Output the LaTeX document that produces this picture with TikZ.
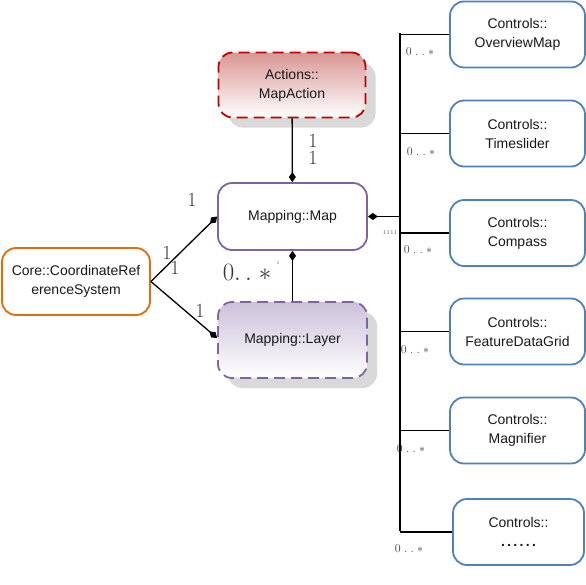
\documentclass[tikz,border=0pt]{standalone}
\usepackage{fontspec}
\newfontfamily\boxfont{Liberation Sans}
\usetikzlibrary{arrows.meta,shadows}
\definecolor{actred}{HTML}{C00000}
\definecolor{actfill}{HTML}{D99694}
\definecolor{mappurple}{HTML}{8064A2}
\definecolor{layerfill}{HTML}{CCC1DA}
\definecolor{coreorange}{HTML}{E46C0A}
\definecolor{ctrlblue}{HTML}{4F81BD}
\tikzset{
  box/.style={draw, rounded corners=14pt, line width=1.8pt, align=center, inner sep=0pt,
    font=\boxfont\fontsize{14}{19}\selectfont, text=black!90},
  shadowbox/.style={box, dash pattern=on 11pt off 6pt,
    drop shadow={shadow xshift=10pt, shadow yshift=-10pt, fill=black!15, opacity=1}},
  ctrlbox/.style={box, draw=ctrlblue, fill=white, minimum width=135pt, minimum height=66pt},
  conn/.style={line width=1.3pt},
  comp/.style={conn, -{Diamond[length=10pt, width=7pt]}},
  mult/.style={font=\fontsize{12.5}{12}\selectfont, text=black!75},
  role/.style={font=\fontsize{20}{20}\selectfont, text=black!80, inner sep=0pt}
}
\begin{document}
\begin{tikzpicture}[x=1pt, y=-1pt]
        \useasboundingbox (0, 0) rectangle (586, 584);

        \node[shadowbox, draw=actred, top color=actfill, bottom color=white,
              minimum width=147pt, minimum height=65pt] (action) at (292, 85) {Actions::\\MapAction};
        \node[box, draw=mappurple, fill=white, minimum width=149pt, minimum height=67pt] (map) at (292.5, 216.5) {Mapping::Map};
        \node[shadowbox, draw=mappurple, top color=layerfill, bottom color=white,
              minimum width=149pt, minimum height=76pt] (layer) at (292.5, 340) {Mapping::Layer};
        \node[box, draw=coreorange, fill=white, minimum width=148pt, minimum height=67pt] (crs) at (76, 281.5) {Core::CoordinateRef\\erenceSystem};

        \node[ctrlbox] (overview) at (517.5, 34.5) {Controls::\\OverviewMap};
        \node[ctrlbox] (timeslider) at (517.5, 133.5) {Controls::\\Timeslider};
        \node[ctrlbox] (compass) at (517.5, 233) {Controls::\\Compass};
        \node[ctrlbox] (featuregrid) at (517.5, 331.5) {Controls::\\FeatureDataGrid};
        \node[ctrlbox] (magnifier) at (517.5, 430.5) {Controls::\\Magnifier};
        \node[ctrlbox, minimum width=131pt] (others) at (518.5, 532) {Controls::\\\textbf{.\,.\,.\,.\,.\,.}};

        \coordinate (trunktop) at (400, 33);
        \coordinate (trunkbot) at (400, 531);

        \draw[comp] (action) -- (map);
        \draw[comp] (layer) -- (map);
        \draw[comp] (crs.east) -- (map.west);
        \draw[comp] (crs.east) -- (layer.west |- 0, 338);
        \draw[comp] (map.east -| trunktop) -- (map.east);
        \draw[conn] (trunktop) -- (trunkbot);
        \foreach \c in {overview, timeslider, compass, featuregrid, magnifier, others}
            \draw[conn] (\c.west -| trunktop) -- (\c.west);

        \node[role] (r1) at (313, 141) {1};
        \node[role] (r2) at (313, 158) {1};
        \node[role] (r3) at (192, 200) {1};
        \node[role] (r4) at (167, 253) {1};
        \node[role] (r5) at (175, 268) {1};
        \node[role] (r6) at (200, 311) {1};
        \node[font=\fontsize{27}{27}\selectfont, text=black!80] (many) at (247, 272) {$0.\,.\;*$};
        \node[font=\fontsize{5}{5}\selectfont, text=black!60] (tiny) at (278, 263) {1};
        \node[font=\fontsize{6}{6}\selectfont, text=black!60] (ones) at (390, 232) {1111};

        \node[mult] (m1) at (420, 52) {$0\;.\;.\;*$};
        \node[mult] (m2) at (421, 152) {$0\;.\;.\;*$};
        \node[mult] (m3) at (418, 250) {$0\;.\;.\;*$};
        \node[mult] (m4) at (415, 350) {$0\;.\;.\;*$};
        \node[mult] (m5) at (411, 449) {$0\;.\;.\;*$};
        \node[mult] (m6) at (409, 549) {$0\;.\;.\;*$};
    \end{tikzpicture}
\end{document}
